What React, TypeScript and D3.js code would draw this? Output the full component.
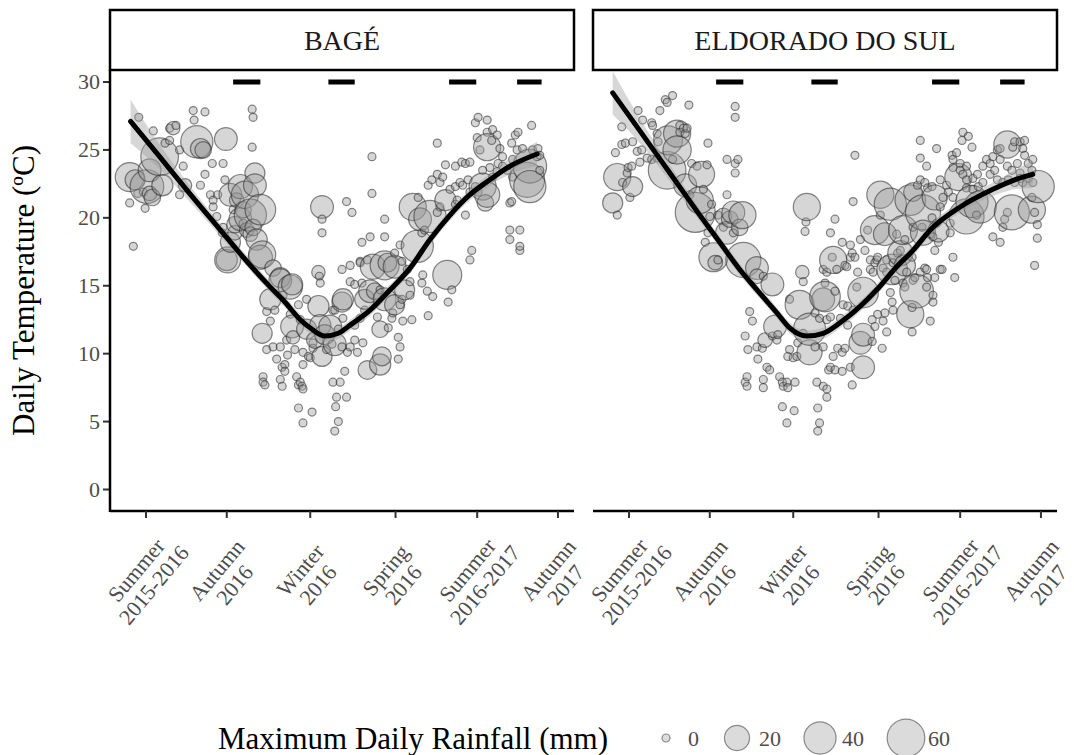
import * as d3 from "d3";

// day offsets are counted from 2015-12-22 (start of summer 2015-2016)
const BASE = Date.UTC(2015, 11, 22);
const toDate = (d: number) => new Date(BASE + d * 864e5);

const sites = ["BAGÉ", "ELDORADO DO SUL"];
const seasonDays = [0, 89, 181, 275, 365, 454];
const seasonLabels = [
  ["Summer", "2015-2016"], ["Autumn", "2016"], ["Winter", "2016"],
  ["Spring", "2016"], ["Summer", "2016-2017"], ["Autumn", "2017"],
];
const yTicks = [0, 5, 10, 15, 20, 25, 30];
// sampling campaigns drawn as bars at 30 ºC
const campaignDays: [number, number][] = [[96, 126], [201, 230], [334, 364], [409, 436]];
const legendRain = [0, 20, 40, 60];

// [day, temperature ºC, max daily rainfall mm]
const bagePoints: [number, number, number][] = [
  [-8,27.4,0],[52,27.9,0],[65,27.8,0],[53,27.2,0],[8,26.4,0],[26,26.6,0],[33,26.8,0],[30,26.6,2],
  [56,25.6,40],[60,25.1,10],[63,25.0,5],[88,25.8,15],[117,25.2,0],[117,28.0,0],[118,27.4,0],
  [37,25.0,0],[21,25.5,0],[26,25.7,0],[15,24.5,60],[-18,23.0,30],[1,22.3,45],[-12,22.8,10],
  [4,21.8,3],[-3,21.9,0],[7,21.5,5],[18,22.4,12],[-18,21.1,0],[-1,20.7,0],[-14,17.9,0],
  [41,23.8,0],[37,21.7,0],[43,22.4,2],[73,24.0,0],[85,24.0,0],[71,21.7,0],[79,21.7,0],[74,21.3,0],
  [74,20.8,0],[78,20.1,0],[85,19.3,0],[84,18.9,0],[104,22.3,18],[120,23.3,10],[120,22.4,15],
  [126,20.6,35],[107,20.6,5],[100,21.3,3],[96,20.6,0],[107,19.6,0],[111,19.1,3],[118,19.3,5],
  [122,18.4,12],[126,17.1,18],[93,18.2,10],[89,16.9,12],[98,18.9,3],[140,16.3,5],[148,15.6,10],
  [161,15.1,12],[194,20.8,15],[194,19.9,0],[194,18.9,0],[221,21.2,0],[190,16.0,2],[192,15.2,0],[216,16.2,0],
  [4,23.5,15],[-9,21.8,0],
  [90,16.9,22],[128,17.3,25],[148,15.4,15],[159,14.9,18],[133,13.1,0],[137,12.4,0],[128,11.5,10],
  [133,10.3,0],[140,10.5,0],[148,10.5,0],[144,9.6,0],[150,9.0,0],[153,9.2,0],[129,8.3,0],[129,7.9,0],
  [131,7.7,0],[148,8.1,0],[150,7.6,0],[166,8.3,0],[170,7.9,0],[172,7.6,0],[173,7.4,0],[168,7.7,0],
  [168,6.0,0],[183,5.7,0],[173,4.9,0],[161,12.0,15],[162,11.2,2],[155,11.0,0],[177,14.0,0],[190,13.5,12],
  [191,15.7,0],[184,10.8,0],[184,10.4,0],[173,10.1,0],[179,9.8,0],[181,9.7,0],[173,9.2,0],[194,9.8,10],
  [199,10.3,0],[205,10.7,0],[203,12.0,15],[206,13.2,0],[216,13.8,10],[206,7.9,0],[214,7.9,0],[210,6.8,0],
  [221,6.8,0],[209,6.1,0],[212,5.0,0],[208,4.3,0],[219,8.7,0],
  [244,8.8,8],[258,9.2,12],[260,9.8,8],[278,9.6,0],[233,10.1,0],[222,10.1,0],[216,10.5,0],[225,10.5,0],
  [239,10.8,0],[230,11.0,0],[267,11.9,0],[258,11.8,5],[278,11.2,0],[280,10.5,0],[255,12.7,0],[271,12.6,0],
  [283,12.4,0],[293,12.5,0],[272,13.0,0],[282,14.0,0],[280,13.6,0],[291,14.3,0],[311,12.8,0],[333,13.8,0],
  [337,14.7,0],[332,15.8,30],[316,14.2,0],[310,14.6,0],[304,15.2,0],[305,15.8,0],[291,15.3,0],[288,16.2,0],
  [274,16.4,15],[266,16.7,8],[250,16.4,20],[236,16.8,0],[225,16.5,0],[238,15.2,0],[230,15.1,0],[225,15.3,0],
  [247,14.6,15],[252,14.6,5],[258,14.7,0],[217,14.0,12],[208,13.2,0],[217,12.6,0],[241,13.2,0],[212,11.8,0],
  [359,17.6,0],[357,16.9,0],[412,17.6,0],
  [366,27.4,0],[376,27.2,0],[363,27.0,0],[321,25.5,0],[249,24.5,0],[249,21.8,0],[227,20.4,0],[263,19.9,0],
  [238,18.2,0],[247,18.6,0],[263,18.6,0],[280,18.0,0],[236,16.7,0],[244,16.9,0],[263,16.5,30],[274,17.4,0],
  [282,16.8,0],[294,20.8,25],[300,21.5,0],[302,19.9,15],[313,20.1,40],[321,20.4,0],[324,20.8,0],[299,17.9,40],
  [307,19.1,0],[304,18.9,0],[321,23.2,0],[327,23.0,0],[324,22.6,0],[330,23.9,0],[341,23.8,0],[348,24.1,0],
  [352,24.0,0],[357,24.1,0],[335,22.1,0],[341,22.3,0],[346,22.6,0],[349,22.4,0],[355,22.8,0],[343,21.3,0],
  [357,21.9,0],[363,22.3,0],[366,21.9,0],[365,25.9,0],[376,26.3,0],[382,26.5,0],[387,26.1,0],[381,25.7,0],
  [376,25.2,25],[368,25.0,0],[390,25.1,0],[393,24.5,0],[388,24.0,0],[371,23.5,0],[379,23.7,0],[387,23.4,0],
  [382,23.0,0],[371,22.3,25],[376,21.7,20],[374,21.1,5],[401,21.1,0],[403,25.5,0],[409,25.0,0],[415,25.1,0],
  [407,26.1,0],[410,26.3,0],[425,26.8,0],[404,24.3,0],[393,23.8,0],[398,23.5,0],[404,23.0,0],[423,23.8,45],
  [426,25.0,0],[432,25.1,0],[434,24.6,0],[431,24.5,0],[420,22.8,50],[423,22.3,40],[434,23.5,0],[403,21.2,0],
  [401,19.1,0],[412,19.1,0],[401,18.4,0],[412,17.9,0],
  [311,22.4,0],[315,22.8,0],[330,21.3,12],[341,21.0,0],[352,20.2,0],
  [236,12.6,0],[230,12.1,0],[241,14.0,10],[263,14.0,15],[274,13.6,10],[285,14.7,10],
  [137,14.0,12],[151,14.3,0],[142,13.2,0],[159,12.9,0],[168,13.6,0],[170,12.5,0],[177,11.8,10],[192,12.1,12],
  [186,11.0,5],[197,11.4,10],[208,10.7,15],[156,9.9,0],[164,10.3,0],[153,8.7,0],
  [65,23.2,0],[60,22.4,0],[87,22.8,0],[93,21.7,15],[109,21.7,25],[115,20.2,40],[104,19.9,15],[98,19.5,5],[115,18.8,3],
];

const eldoradoPoints: [number, number, number][] = [
  [48,29.0,0],[40,28.7,0],[34,27.9,0],[42,28.5,0],[66,28.3,0],[10,27.9,0],[15,27.2,0],[25,27.0,0],[26,26.8,0],
  [-8,26.7,0],[56,26.8,0],[60,26.6,0],[64,26.6,0],[62,26.2,0],[56,26.3,0],[53,26.2,25],[43,25.7,30],[53,25.0,28],
  [31,26.2,0],[32,25.6,0],[4,25.6,0],[-4,25.5,0],[-8,25.4,0],[14,25.0,0],[9,24.9,0],[-15,24.8,0],[42,23.5,60],
  [48,24.3,0],[31,24.4,0],[25,24.3,0],[20,24.4,0],[3,23.8,0],[12,24.1,0],[-1,23.7,0],[-13,23.0,25],[-2,23.3,0],
  [4,22.3,10],[-7,22.6,0],[-18,21.1,10],[-13,20.2,0],[1,21.5,0],[69,24.0,0],[75,23.8,0],[86,23.9,0],[87,25.5,0],
  [80,23.2,22],[82,22.1,0],[73,20.4,70],[108,24.3,0],[117,24.0,0],[120,24.3,0],[117,23.3,0],[108,21.7,0],
  [117,28.2,0],[117,27.4,0],[104,20.1,5],[115,20.4,15],[125,20.2,25],[122,19.3,5],[111,19.9,5],[104,19.3,0],
  [108,18.9,15],[115,18.9,0],[89,20.1,0],[98,20.2,0],[84,18.2,0],[87,18.9,0],[93,17.1,30],[98,16.9,0],[95,16.7,3],
  [126,16.9,50],[141,16.3,15],[148,15.7,0],[158,15.1,15],[141,15.7,3],[196,20.8,25],[195,19.7,0],[194,19.0,0],
  [191,16.0,2],[192,15.3,0],[214,16.2,0],
  [62,22.4,15],[67,21.7,0],[78,21.3,25],[91,21.0,0],
  [133,13.1,0],[136,12.4,0],[128,11.3,0],[131,10.3,0],[141,10.5,0],[147,10.4,0],[150,11.0,3],[158,11.3,0],
  [142,9.6,0],[152,9.0,0],[155,8.8,0],[130,8.3,0],[128,7.9,0],[130,7.6,0],[148,8.1,0],[148,7.5,0],[166,8.3,0],
  [169,7.9,0],[174,7.9,0],[170,7.6,0],[175,7.5,0],[183,7.9,0],[169,6.1,0],[182,5.8,0],[174,4.9,0],[161,12.0,15],
  [177,14.0,0],[188,13.6,30],[177,10.3,0],[175,9.8,0],[181,9.7,0],[185,9.8,0],[163,11.0,0],[164,11.4,0],
  [186,10.8,0],[192,11.5,0],[199,10.1,20],[205,10.5,0],[214,10.5,0],[199,11.8,40],[205,13.0,0],[218,12.5,0],
  [214,14.0,15],[218,16.0,0],[216,15.2,0],[207,7.9,0],[214,7.6,0],[218,6.8,0],[208,6.0,0],[210,4.9,0],
  [208,4.3,0],[220,8.8,0],
  [218,7.4,0],[246,7.7,0],[222,9.0,0],[227,8.8,0],[235,8.7,0],[244,9.0,0],[258,9.0,15],[225,9.8,0],[230,10.4,0],
  [235,10.1,0],[238,10.4,0],[255,10.8,15],[268,10.9,0],[258,11.4,15],[279,10.4,0],[284,11.6,0],[271,12.0,0],
  [268,12.5,0],[274,12.9,0],[282,13.0,0],[280,12.4,0],[291,13.2,0],[290,13.8,0],[288,14.5,0],[312,11.6,0],
  [310,12.9,25],[312,13.4,0],[332,12.4,0],[335,13.8,0],[335,14.3,0],[328,14.9,0],[317,14.6,45],[329,15.6,0],
  [326,16.3,0],[345,16.2,0],[337,17.6,0],[357,17.1,0],[359,15.6,0],[447,16.5,0],[299,17.6,0],[258,14.5,35],
  [251,14.9,0],[216,14.2,35],[227,14.6,0],[236,13.6,0],[241,13.5,0],[247,13.2,0],[210,12.6,0],[222,12.7,0],
  [233,12.6,0],[241,12.1,0],[224,17.1,0],[229,16.2,0],[238,16.5,0],[244,17.1,0],[249,17.1,0],[266,16.9,0],
  [271,16.7,0],[274,17.1,0],[269,16.0,0],[284,16.9,0],[280,16.3,0],[290,16.2,35],[299,17.4,20],[304,16.5,12],
  [312,17.1,0],[306,16.0,0],[302,15.2,0],[304,14.9,0],[315,15.6,0],
  [249,24.6,0],[247,21.2,0],[227,19.9,0],[222,18.9,0],[263,19.1,0],[235,18.2,0],[244,18.0,0],[246,17.4,0],
  [225,16.9,25],[240,16.4,0],[252,16.0,0],[266,16.2,0],[273,16.9,0],[291,16.7,0],[296,17.4,0],[284,16.0,0],
  [293,15.4,0],[313,15.4,0],[321,16.0,0],[328,16.2,0],[337,15.6,0],[343,16.2,0],[321,25.7,0],[339,25.1,0],
  [321,24.4,0],[328,23.8,0],[321,22.8,0],[326,22.6,0],[329,22.2,0],[318,22.4,0],[313,21.9,8],[310,21.3,35],
  [324,20.4,50],[302,19.1,30],[295,18.8,0],[304,18.4,0],[313,19.3,0],[323,19.3,0],[324,18.9,20],[332,18.8,0],
  [334,20.0,0],[339,19.6,0],[337,21.5,20],[346,21.5,0],[350,22.4,0],[343,20.8,0],[343,22.8,0],[334,22.3,0],
  [352,21.9,0],[354,19.6,0],[354,18.9,0],[335,18.6,0],[341,18.2,0],[341,19.0,12],[357,21.5,0],[368,26.3,0],
  [367,25.7,0],[374,26.0,0],[378,25.2,0],[356,24.6,0],[361,24.8,0],[357,24.3,0],[365,24.0,0],[357,23.7,0],
  [365,23.5,0],[372,23.8,0],[368,23.2,0],[363,23.0,25],[372,22.8,0],[379,22.9,0],[384,23.2,0],[372,22.2,0],
  [379,22.1,0],[385,22.3,0],[390,22.6,0],[378,21.2,40],[387,20.8,40],[372,20.1,50],[383,20.2,0],[394,24.3,0],
  [398,24.0,0],[403,23.5,0],[398,23.2,0],[390,23.8,0],[406,25.0,0],[409,25.1,0],[401,24.5,0],[417,25.4,25],
  [423,25.2,0],[431,25.6,0],[434,25.1,0],[409,24.3,0],[417,23.8,0],[422,23.5,0],[428,24.0,0],[431,23.3,0],
  [406,22.8,0],[412,22.6,0],[418,22.8,0],[425,22.6,0],[431,22.9,0],[434,22.6,0],[440,22.9,0],[445,22.6,0],
  [444,23.5,0],[440,24.0,0],[422,20.4,50],[417,20.4,0],[414,19.9,0],[412,19.3,0],[401,18.6,0],[409,18.2,0],
  [444,20.6,25],[447,20.4,0],[450,19.5,0],[450,18.5,0],[436,24.6,0],[445,24.3,0],[451,22.3,40],[444,21.5,0],
  [425,25.6,0],[436,25.7,0],
  [277,21.7,25],[288,21.0,40],[271,19.1,30],[282,18.8,15],[255,18.4,0],[260,17.6,0],[277,20.2,0],
];

// loess fit: [day, fit, standard error]
const bageSmooth: [number, number, number][] = [
  [-17,27.1,1.6],[15,24.5,0.9],[48,21.8,0.6],[82,19.1,0.45],[115,16.5,0.4],[137,14.9,0.4],[153,13.8,0.4],
  [170,12.5,0.4],[183,11.8,0.4],[197,11.3,0.4],[212,11.5,0.4],[225,12.1,0.4],[247,13.2,0.4],[269,14.7,0.4],
  [291,16.3,0.4],[313,18.4,0.4],[335,20.2,0.4],[357,21.7,0.4],[379,22.8,0.45],[401,23.8,0.6],[431,24.7,0.9],
];
const eldoradoSmooth: [number, number, number][] = [
  [-18,29.2,1.6],[12,26.4,0.9],[45,23.3,0.6],[78,20.2,0.45],[100,18.2,0.4],[122,16.2,0.4],[141,14.7,0.4],
  [163,13.0,0.4],[177,11.9,0.4],[196,11.3,0.4],[214,11.5,0.4],[233,12.3,0.4],[255,13.5,0.4],[273,14.7,0.4],
  [295,16.4,0.4],[313,17.6,0.4],[332,19.1,0.4],[365,20.8,0.4],[401,22.1,0.5],[425,22.8,0.7],[445,23.2,1.0],
];

const FONT = '"Liberation Serif", "Times New Roman", Times, serif';

export default function App() {
  const width = 1074, height = 755;
  const panelW = 464, top = 70, bottom = 511;
  const panels = [
    { name: sites[0], x0: 110, pts: bagePoints, fit: bageSmooth },
    { name: sites[1], x0: 593, pts: eldoradoPoints, fit: eldoradoSmooth },
  ];
  const y = d3.scaleLinear().domain([0, 30]).range([489.5, 82]);
  const r = d3.scaleSqrt().domain([0, 70]).range([4, 20]);

  return (
    <svg width={width} height={height} style={{ position: "absolute", left: 0, top: 0, background: "#fff" }}
      fontFamily={FONT}>
      <text transform={`translate(34,${(top + bottom) / 2}) rotate(-90)`} textAnchor="middle"
        fontSize={31} fill="#000">Daily Temperature (ºC)</text>

      {yTicks.map(t => (
        <g key={t}>
          <line x1={103} x2={110} y1={y(t)} y2={y(t)} stroke="#333" strokeWidth={2} />
          <text x={100} y={y(t)} dy="0.34em" textAnchor="end" fontSize={22} fill="#4d4d4d">{t}</text>
        </g>
      ))}
      <line x1={110} x2={110} y1={top} y2={bottom + 1} stroke="#000" strokeWidth={2.5} />

      {panels.map(p => {
        const x = d3.scaleUtc().domain([toDate(-39.7), toDate(471.7)]).range([p.x0, p.x0 + panelW]);
        const pts = [...p.pts].sort((a, b) => a[0] - b[0]);
        const line = d3.line<[number, number, number]>()
          .x(d => x(toDate(d[0]))).y(d => y(d[1])).curve(d3.curveMonotoneX);
        const band = d3.area<[number, number, number]>()
          .x(d => x(toDate(d[0]))).y0(d => y(d[1] - d[2])).y1(d => y(d[1] + d[2])).curve(d3.curveMonotoneX);
        return (
          <g key={p.name}>
            <rect x={p.x0} y={10} width={panelW} height={60} fill="#fff" stroke="#000" strokeWidth={2.5} />
            <text x={p.x0 + panelW / 2} y={40} dy="0.35em" textAnchor="middle" fontSize={28} fill="#1a1a1a">{p.name}</text>

            {campaignDays.map(([a, b]) => (
              <line key={a} x1={x(toDate(a))} x2={x(toDate(b))} y1={y(30)} y2={y(30)} stroke="#000" strokeWidth={5} />
            ))}

            {pts.map((d, i) => (
              <circle key={i} cx={x(toDate(d[0]))} cy={y(d[1])} r={r(d[2])}
                fill="#999" fillOpacity={0.4} stroke="#262626" strokeOpacity={0.55} strokeWidth={1.2} />
            ))}
            <path d={band(p.fit) || ""} fill="#9a9a9a" fillOpacity={0.4} />
            <path d={line(p.fit) || ""} fill="none" stroke="#000" strokeWidth={5} strokeLinecap="round" />

            <line x1={p.x0} x2={p.x0 + panelW} y1={bottom} y2={bottom} stroke="#000" strokeWidth={2.5} />
            {seasonDays.map((s, i) => {
              const tx = x(toDate(s));
              return (
                <g key={s}>
                  <line x1={tx} x2={tx} y1={bottom} y2={bottom + 7} stroke="#333" strokeWidth={2} />
                  <g transform={`translate(${tx - 10},570) rotate(-50)`} fontSize={22} fill="#4d4d4d">
                    <text y={0} dy="0.35em" textAnchor="middle">{seasonLabels[i][0]}</text>
                    <text y={23} dy="0.35em" textAnchor="middle">{seasonLabels[i][1]}</text>
                  </g>
                </g>
              );
            })}
          </g>
        );
      })}

      <text x={218} y={738} dy="0.35em" fontSize={31} fill="#000">Maximum Daily Rainfall (mm)</text>
      {legendRain.map((v, i) => {
        const cx = [666, 737, 820, 906][i];
        return (
          <g key={v}>
            <circle cx={cx} cy={738} r={r(v)} fill="#999" fillOpacity={0.35} stroke="#262626" strokeOpacity={0.5} strokeWidth={1.2} />
            <text x={cx + 22} y={738} dy="0.35em" fontSize={22} fill="#4d4d4d">{v}</text>
          </g>
        );
      })}
    </svg>
  );
}
